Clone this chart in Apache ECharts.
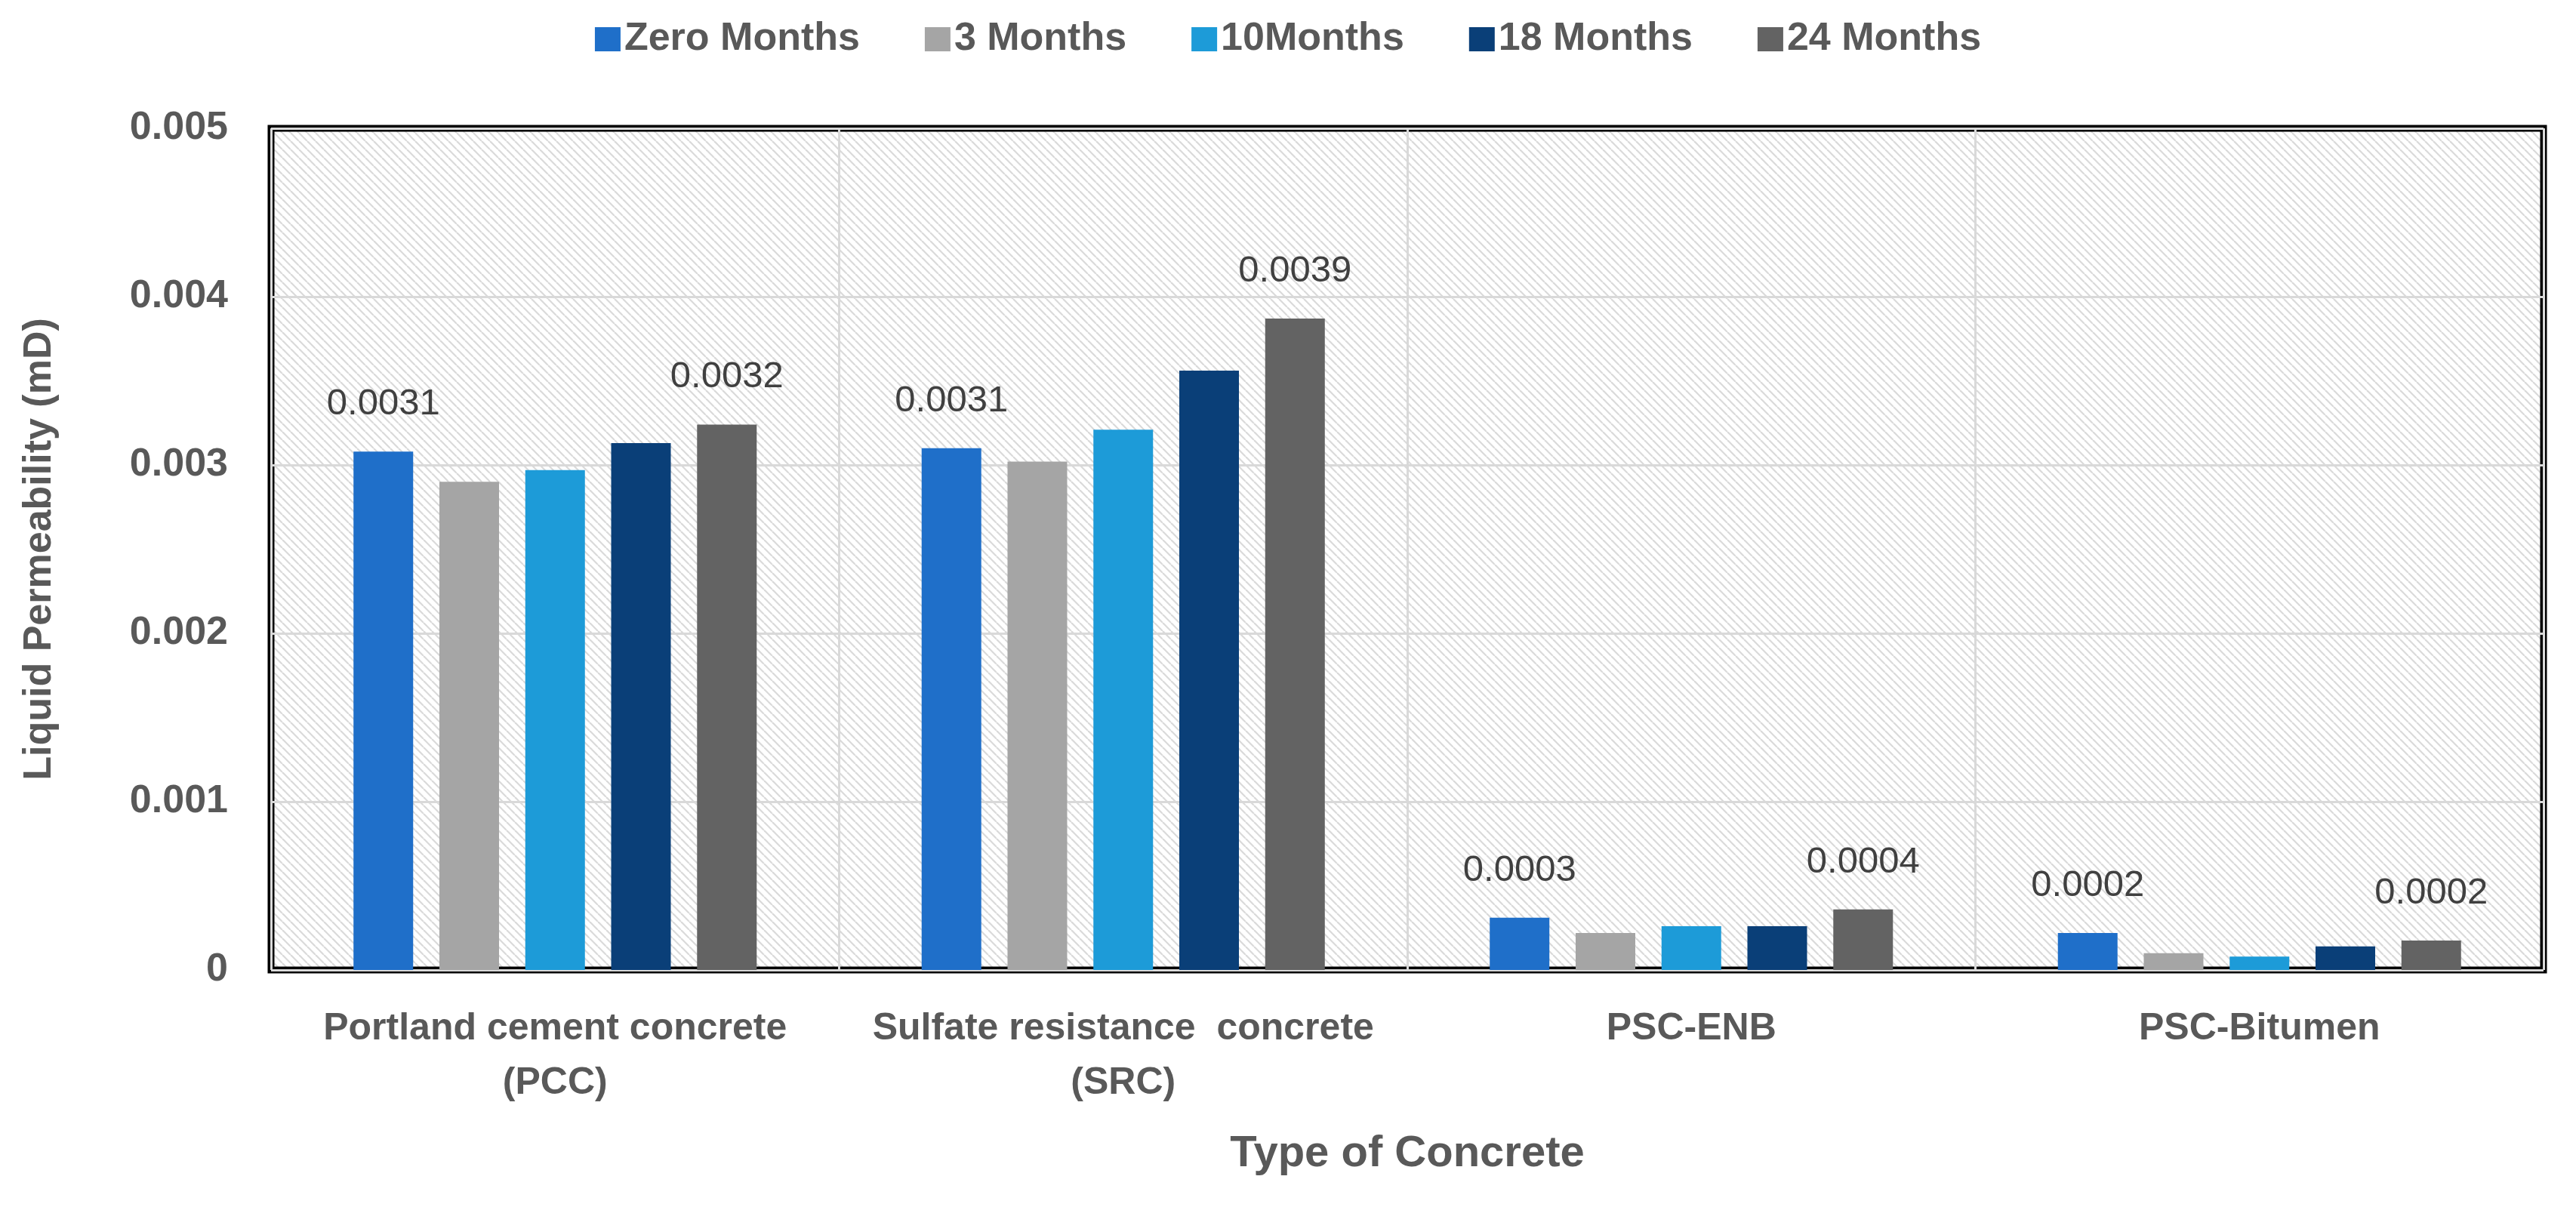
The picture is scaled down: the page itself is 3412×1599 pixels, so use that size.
<!DOCTYPE html>
<html>
<head>
<meta charset="utf-8">
<script src="https://cdn.jsdelivr.net/npm/echarts@6/dist/echarts.min.js"></script>
<style>
html,body{margin:0;padding:0;background:#fff;}
#chart{width:3412px;height:1599px;}
</style>
</head>
<body>
<div id="chart"></div>
<script>
const categories = ['Portland cement concrete\n(PCC)', 'Sulfate resistance  concrete\n(SRC)', 'PSC-ENB', 'PSC-Bitumen'];
const seriesNames = ['Zero Months', '3 Months', '10Months', '18 Months', '24 Months'];
const zeroMonths = [0.00308, 0.00310, 0.00031, 0.00022];
const threeMonths = [0.00290, 0.00302, 0.00022, 0.00010];
const tenMonths = [0.00297, 0.00321, 0.00026, 0.00008];
const eighteenMonths = [0.00313, 0.00356, 0.00026, 0.00014];
const twentyFourMonths = [0.00324, 0.00387, 0.00036, 0.000175];
const yTicks = { min: 0, max: 0.005, interval: 0.001 };

const seriesValues = [zeroMonths, threeMonths, tenMonths, eighteenMonths, twentyFourMonths];
const colors = ['#1f6fc9', '#a5a5a5', '#1d9bd8', '#0a3f78', '#636363'];
const labelled = [true, false, false, false, true];

// hatch pattern
const tile = document.createElement('canvas');
const s = 11;
tile.width = s; tile.height = s;
const ctx = tile.getContext('2d');
ctx.fillStyle = '#ffffff';
ctx.fillRect(0, 0, s, s);
ctx.strokeStyle = '#dadada';
ctx.lineWidth = 2.2;
for (const x0 of [-s, 0, s]) {
  ctx.beginPath();
  ctx.moveTo(x0, 0);
  ctx.lineTo(x0 + s, s);
  ctx.stroke();
}

const FONT = "'Liberation Sans', Arial, sans-serif";
const chart = echarts.init(document.getElementById('chart'), null, { renderer: 'canvas' });

const series = seriesNames.map((name, i) => ({
  name: name,
  type: 'bar',
  data: seriesValues[i],
  barWidth: 79,
  barGap: '44%',
  itemStyle: { color: colors[i] },
  label: {
    show: labelled[i],
    position: 'top',
    distance: 38,
    color: '#404040',
    fontFamily: FONT,
    fontSize: 49,
    formatter: p => Number(p.value).toFixed(4)
  }
}));

chart.setOption({
  animation: false,
  backgroundColor: '#ffffff',
  textStyle: { fontFamily: FONT },
  legend: {
    data: seriesNames,
    top: 21,
    left: 'center',
    itemWidth: 34,
    itemHeight: 32,
    itemGap: 86,
    icon: 'rect',
    textStyle: { fontFamily: FONT, fontSize: 52, fontWeight: 'bold', color: '#595959' }
  },
  grid: {
    left: 359,
    right: 43,
    top: 170,
    bottom: 314,
    show: true,
    borderColor: '#000000',
    borderWidth: 9,
    backgroundColor: { image: tile, repeat: 'repeat' },
    containLabel: false
  },
  xAxis: {
    type: 'category',
    data: categories,
    boundaryGap: true,
    name: 'Type of Concrete',
    nameLocation: 'middle',
    nameGap: 215,
    nameTextStyle: { fontFamily: FONT, fontSize: 58, fontWeight: 'bold', color: '#595959' },
    axisLine: { show: false },
    axisTick: { show: false },
    splitLine: { show: true, lineStyle: { color: '#d9d9d9', width: 3 } },
    axisLabel: {
      interval: 0,
      margin: 42,
      fontFamily: FONT,
      fontSize: 50,
      fontWeight: 'bold',
      color: '#595959',
      lineHeight: 72
    }
  },
  yAxis: {
    type: 'value',
    min: yTicks.min,
    max: yTicks.max,
    interval: yTicks.interval,
    name: 'Liquid Permeability (mD)',
    nameLocation: 'middle',
    nameGap: 280,
    nameRotate: 90,
    nameTextStyle: { fontFamily: FONT, fontSize: 52, fontWeight: 'bold', color: '#595959' },
    axisLine: { show: false },
    axisTick: { show: false },
    splitLine: { show: true, lineStyle: { color: '#d9d9d9', width: 3 } },
    axisLabel: {
      margin: 57,
      fontFamily: FONT,
      fontSize: 52,
      fontWeight: 'bold',
      color: '#595959'
    }
  },
  series: series
});
</script>
</body>
</html>
